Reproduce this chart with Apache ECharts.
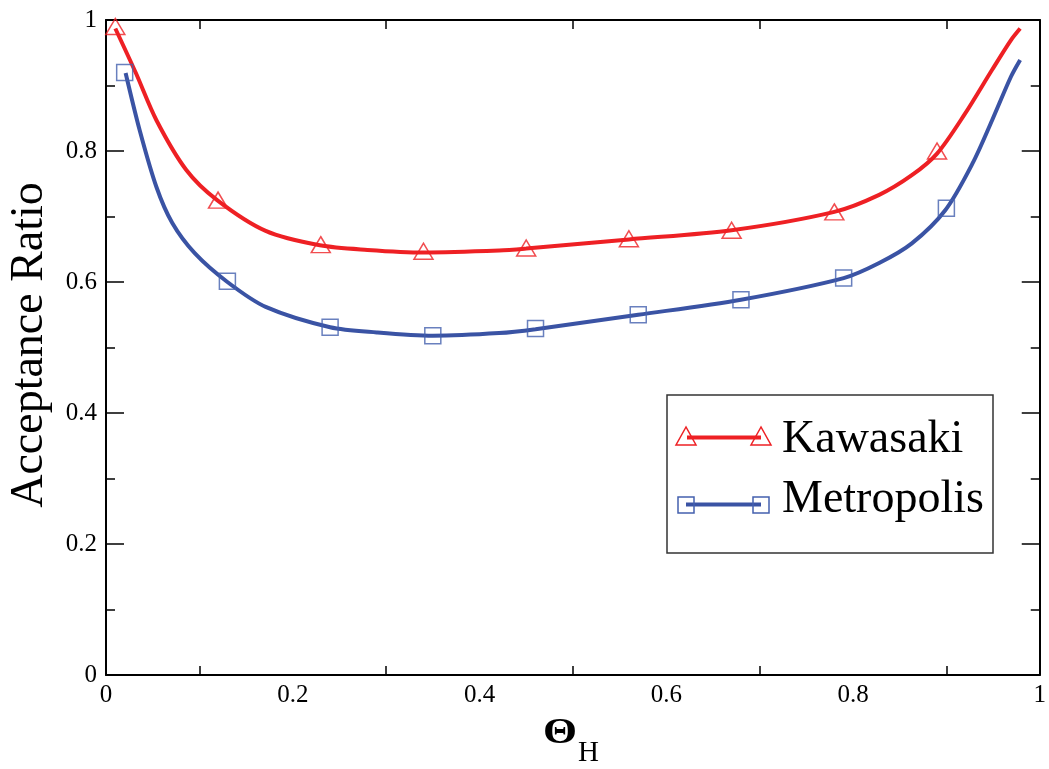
<!DOCTYPE html>
<html>
<head>
<meta charset="utf-8">
<script src="https://cdn.jsdelivr.net/npm/echarts@6/dist/echarts.min.js"></script>
<style>html,body{margin:0;padding:0;background:#fff;}#c{width:1049px;height:769px;}</style>
</head>
<body>
<div id="c"></div>
<script>
// Marker data
const kawasakiX = [0.01, 0.12, 0.23, 0.34, 0.45, 0.56, 0.67, 0.78, 0.89];
const kawasakiY = [0.99, 0.725, 0.657, 0.647, 0.652, 0.666, 0.679, 0.707, 0.800];
const metroX = [0.02, 0.13, 0.24, 0.35, 0.46, 0.57, 0.68, 0.79, 0.90];
const metroY = [0.920, 0.601, 0.531, 0.518, 0.529, 0.550, 0.573, 0.606, 0.7125];
// Fitted curves
const kawasakiCurveX = [0.01, 0.032, 0.054, 0.086, 0.119, 0.171, 0.229, 0.28, 0.34, 0.421, 0.45, 0.56, 0.67, 0.78, 0.828, 0.863, 0.89, 0.92, 0.949, 0.969, 0.979];
const kawasakiCurveY = [0.987, 0.919, 0.847, 0.771, 0.725, 0.678, 0.656, 0.649, 0.645, 0.648, 0.651, 0.665, 0.679, 0.707, 0.733, 0.763, 0.796, 0.857, 0.924, 0.969, 0.987];
const metroCurveX = [0.021, 0.036, 0.054, 0.071, 0.095, 0.13, 0.171, 0.24, 0.29, 0.35, 0.421, 0.46, 0.57, 0.68, 0.79, 0.828, 0.863, 0.899, 0.928, 0.949, 0.969, 0.979];
const metroCurveY = [0.919, 0.832, 0.745, 0.690, 0.644, 0.600, 0.562, 0.531, 0.523, 0.518, 0.522, 0.528, 0.550, 0.573, 0.606, 0.629, 0.659, 0.710, 0.781, 0.847, 0.913, 0.939];
const seriesNames = ['Kawasaki', 'Metropolis'];
// Minor tick positions along x (ticks drawn only at odd tenths)
const xMinorTicks = ['0', '0.1', '0.2', '0.3', '0.4', '0.5', '0.6', '0.7', '0.8', '0.9', '1'];
const xTitle = 'Θ';
const xTitleSub = 'H';
const yTitle = 'Acceptance Ratio';

const RED = '#ee2024';
const BLUE = '#3a53a4';
const MBLUE = '#4460ae';
const FONT = '"Liberation Serif", "Times New Roman", serif';

const zip = (xs, ys) => xs.map((x, i) => [x, ys[i]]);

const chart = echarts.init(document.getElementById('c'), null, {renderer: 'canvas'});

const tickLine = {color: '#000', width: 1.5};
const axisLine = {show: true, onZero: false, lineStyle: {color: '#000', width: 2}};
const noLine = {show: false, onZero: false};
const labelStyle = {color: '#000', fontFamily: FONT, fontSize: 25};

function valX(pos, labels) {
  return {
    type: 'value', min: 0, max: 1, interval: 0.2, position: pos,
    axisLine: axisLine, splitLine: {show: false},
    axisTick: {show: false},
    axisLabel: labels ? Object.assign({margin: 8}, labelStyle) : {show: false}
  };
}
function catX(pos) {
  return {
    type: 'category', data: xMinorTicks, boundaryGap: false, position: pos,
    axisLine: noLine, splitLine: {show: false}, axisLabel: {show: false},
    axisTick: {show: true, inside: true, length: 9, lineStyle: tickLine,
               interval: function (i) { return i % 2 === 1; }}
  };
}
function valY(pos, labels, interval, len, showLine) {
  return {
    type: 'value', min: 0, max: 1, interval: interval, position: pos,
    axisLine: showLine ? axisLine : noLine, splitLine: {show: false},
    axisTick: {show: true, inside: true, length: len, lineStyle: tickLine},
    axisLabel: labels ? Object.assign({margin: 9}, labelStyle) : {show: false}
  };
}

chart.setOption({
  animation: false,
  backgroundColor: '#fff',
  grid: {left: 106, right: 8, top: 20, bottom: 94, containLabel: false},
  xAxis: [valX('bottom', true), valX('top', false), catX('bottom'), catX('top')],
  yAxis: [valY('left', true, 0.2, 18, true), valY('right', false, 0.2, 18, true),
          valY('left', false, 0.1, 9, false), valY('right', false, 0.1, 9, false)],
  series: [
    {
      name: seriesNames[0] + ' fit', type: 'line', data: zip(kawasakiCurveX, kawasakiCurveY),
      smooth: 0.3, showSymbol: false, lineStyle: {color: RED, width: 4}, z: 2
    },
    {
      name: seriesNames[1] + ' fit', type: 'line', data: zip(metroCurveX, metroCurveY),
      smooth: 0.3, showSymbol: false, lineStyle: {color: BLUE, width: 4}, z: 2
    },
    {
      name: seriesNames[0], type: 'scatter', data: zip(kawasakiX, kawasakiY),
      symbol: 'triangle', symbolSize: [19, 16],
      itemStyle: {color: 'rgba(0,0,0,0)', borderColor: RED, borderWidth: 1.5}, z: 3
    },
    {
      name: seriesNames[1], type: 'scatter', data: zip(metroX, metroY),
      symbol: 'rect', symbolSize: 16,
      itemStyle: {color: 'rgba(0,0,0,0)', borderColor: MBLUE, borderWidth: 1.5}, z: 3
    }
  ],
  graphic: [
    {type: 'text', x: 30, y: 345, rotation: Math.PI / 2,
     style: {text: yTitle, font: '46px ' + FONT, fill: '#000', align: 'center', verticalAlign: 'middle'}},
    {type: 'text', x: 543, y: 734, scaleX: 1.25,
     style: {text: xTitle, font: 'bold 35px ' + FONT, fill: '#000', align: 'left', verticalAlign: 'middle'}},
    {type: 'text', x: 578, y: 753,
     style: {text: xTitleSub, font: '29px ' + FONT, fill: '#000', align: 'left', verticalAlign: 'middle'}},
    // legend box
    {type: 'rect', shape: {x: 667, y: 395, width: 326, height: 158},
     style: {fill: '#fff', stroke: '#333', lineWidth: 1.5}, z: 10},
    {type: 'line', shape: {x1: 687, y1: 437.5, x2: 761, y2: 437.5}, style: {stroke: RED, lineWidth: 4}, z: 11},
    {type: 'polygon', shape: {points: [[686, 427], [676, 445], [696, 445]]}, style: {fill: 'none', stroke: RED, lineWidth: 1.5}, z: 12},
    {type: 'polygon', shape: {points: [[761, 427], [751, 445], [771, 445]]}, style: {fill: 'none', stroke: RED, lineWidth: 1.5}, z: 12},
    {type: 'text', x: 782, y: 440, style: {text: seriesNames[0], font: '46px ' + FONT, fill: '#000', align: 'left', verticalAlign: 'middle'}, z: 12},
    {type: 'line', shape: {x1: 686, y1: 504.5, x2: 761, y2: 504.5}, style: {stroke: BLUE, lineWidth: 4}, z: 11},
    {type: 'rect', shape: {x: 678, y: 497, width: 16, height: 16}, style: {fill: 'none', stroke: MBLUE, lineWidth: 1.5}, z: 12},
    {type: 'rect', shape: {x: 753, y: 497, width: 16, height: 16}, style: {fill: 'none', stroke: MBLUE, lineWidth: 1.5}, z: 12},
    {type: 'text', x: 782, y: 500, style: {text: seriesNames[1], font: '46px ' + FONT, fill: '#000', align: 'left', verticalAlign: 'middle'}, z: 12}
  ]
});
</script>
</body>
</html>
